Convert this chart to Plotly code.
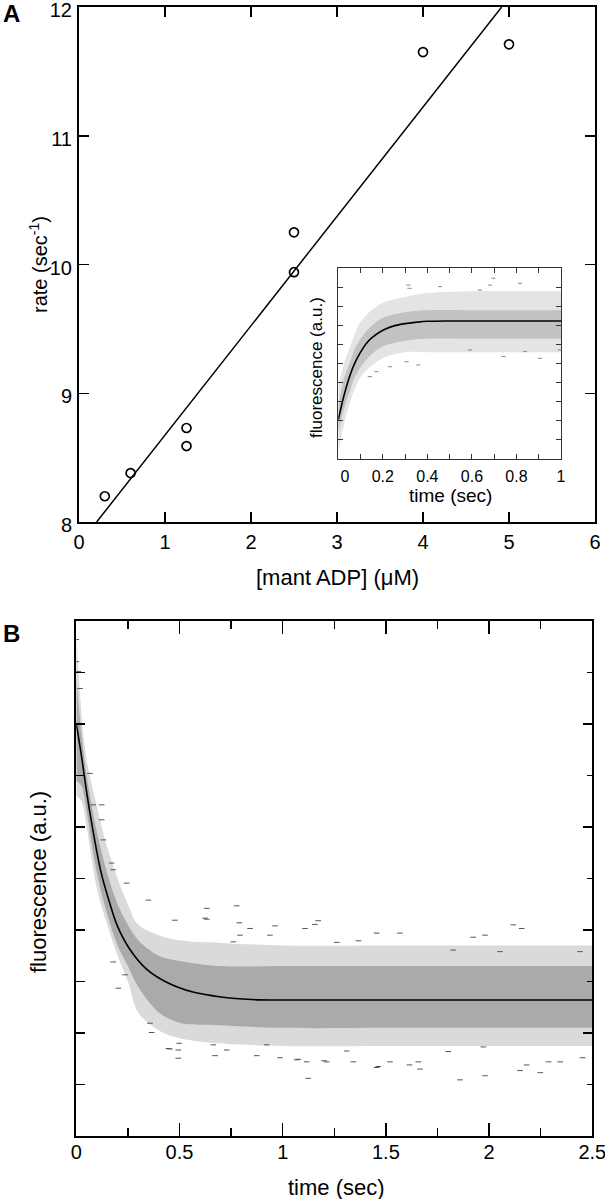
import plotly.graph_objects as go

W, H = 605, 1199

# ---------------- Panel A data ----------------
a_conc = [0.3, 0.6, 1.25, 1.25, 2.5, 2.5, 4.0, 5.0]
a_rate = [8.2, 8.38, 8.73, 8.59, 10.25, 9.94, 11.65, 11.71]
a_fit_conc = [0.205, 4.915]
a_fit_rate = [8.0, 12.0]

# ---------------- Inset data (time sec, fluorescence in tick units) ----------------
in_fit_t = [0, 0.025, 0.05, 0.075, 0.1, 0.125, 0.15, 0.2, 0.25, 0.3, 0.35, 0.4, 0.5, 0.7, 1.0]
in_fit_y = [2.05, 3.3, 4.3, 5.05, 5.6, 6.05, 6.35, 6.75, 6.98, 7.1, 7.17, 7.22, 7.24, 7.24, 7.24]
in_band_t = [0, 0.025, 0.05, 0.075, 0.1, 0.15, 0.2, 0.3, 0.4, 0.6, 1.0]
in_outer_hi = [3.8, 5.0, 5.8, 6.6, 7.2, 7.8, 8.2, 8.5, 8.7, 8.8, 8.8]
in_outer_lo = [0.3, 1.8, 2.9, 3.7, 4.3, 4.9, 5.3, 5.6, 5.6, 5.6, 5.6]
in_inner_hi = [2.8, 4.2, 5.0, 5.8, 6.3, 7.0, 7.4, 7.7, 7.8, 7.8, 7.8]
in_inner_lo = [1.4, 2.6, 3.5, 4.3, 4.8, 5.5, 5.9, 6.2, 6.3, 6.3, 6.3]
in_out_t = [0.314, 0.32, 0.696, 0.816, 0.681, 0.457, 0.636, 0.307, 0.359, 0.172, 0.142,
            0.906, 0.742, 0.591, 0.838, 0.995, 0.232]
in_out_y = [9.12, 8.95, 9.48, 9.21, 9.12, 9.04, 8.86, 5.1, 4.93, 4.58, 4.32,
            5.28, 5.37, 5.72, 5.63, 5.72, 4.84]
in_xticks = [0, 0.2, 0.4, 0.6, 0.8, 1]
in_xticktext = ["\u00a0\u00a0\u00a00", "0.2", "0.4", "0.6", "0.8", "1"]

# ---------------- Panel B data ----------------
b_fit_t = [0, 0.025, 0.05, 0.08, 0.12, 0.16, 0.2, 0.26, 0.34, 0.44, 0.56, 0.7, 0.85, 1.0, 2.5]
b_fit_y = [8.0, 7.38, 6.68, 5.95, 5.12, 4.55, 4.07, 3.62, 3.24, 2.98, 2.8, 2.7, 2.65, 2.64, 2.64]
b_band_t = [0, 0.025, 0.05, 0.1, 0.15, 0.2, 0.25, 0.3, 0.4, 0.5, 0.7, 1.0, 1.5, 2.0, 2.5]
b_outer_hi = [9.8, 8.2, 7.3, 6.4, 5.6, 5.0, 4.5, 4.1, 3.9, 3.8, 3.75, 3.7, 3.7, 3.7, 3.7]
b_outer_lo = [6.6, 6.5, 6.0, 4.8, 4.1, 3.5, 3.0, 2.4, 2.05, 1.9, 1.8, 1.75, 1.75, 1.75, 1.75]
b_inner_hi = [8.9, 7.8, 7.0, 5.9, 5.1, 4.5, 4.1, 3.8, 3.5, 3.4, 3.3, 3.3, 3.3, 3.3, 3.3]
b_inner_lo = [6.9, 6.8, 6.3, 5.1, 4.3, 3.7, 3.3, 2.9, 2.4, 2.2, 2.15, 2.1, 2.1, 2.1, 2.1]
b_out_t = [0.0, 0.0, 0.01, 0.018, 0.066, 0.082, 0.123, 0.123, 0.131, 0.171, 0.179, 0.244, 0.349,
           0.624, 0.478, 0.179, 0.204, 0.236, 0.357, 0.446, 0.494, 0.494, 0.664, 0.729,
           0.632, 0.777, 0.632, 0.79, 0.842, 0.963, 1.108, 1.156, 1.172, 0.793, 0.938, 1.455,
           1.568, 1.923, 1.98, 2.117, 2.158, 0.761, 1.262, 1.367, 1.826, 2.053, 2.44,
           0.672, 0.874, 0.987, 1.124, 1.068, 1.213, 1.342, 1.455, 1.52, 1.614, 1.665, 1.859,
           1.98, 2.15, 2.182, 2.248, 2.288, 2.345, 2.453, 0.365, 0.454, 0.498, 1.076, 1.116,
           1.2, 1.31, 0.922, 1.463, 1.802, 1.972, 1.657]
b_out_y = [9.64, 9.21, 9.02, 8.69, 7.04, 6.43, 6.43, 6.14, 5.75, 5.3, 5.17, 4.91, 4.58,
           4.23, 4.19, 3.38, 2.87, 3.13, 2.19, 1.7, 1.67, 1.51, 1.77, 1.67,
           4.42, 4.47, 4.21, 4.14, 4.03, 4.08, 4.03, 4.11, 4.18, 3.9, 3.9, 3.94,
           3.94, 3.86, 3.9, 4.1, 4.03, 3.77, 3.76, 3.79, 3.61, 3.58, 3.58,
           1.56, 1.56, 1.52, 1.12, 1.48, 1.44, 1.44, 1.33, 1.44, 1.38, 1.3, 1.09,
           1.17, 1.27, 1.38, 1.23, 1.44, 1.44, 1.52, 2.01, 1.69, 1.8, 1.49, 1.44,
           1.46, 1.65, 1.77, 1.35, 1.64, 1.73, 1.44]


def fx(p):
    return p / W


def fy(p):
    return 1 - p / H


FONT = "Liberation Sans, Arial, Helvetica, sans-serif"

fig = go.Figure()

# ---- Panel A ----
fig.add_trace(go.Scatter(x=a_fit_conc, y=a_fit_rate, mode="lines",
                         line=dict(color="black", width=1.5), xaxis="x", yaxis="y"))
fig.add_trace(go.Scatter(x=a_conc, y=a_rate, mode="markers",
                         marker=dict(symbol="circle-open", size=9, color="black",
                                     line=dict(width=1.7, color="black")),
                         xaxis="x", yaxis="y"))


def band(t, hi, lo, color, xa, ya):
    fig.add_trace(go.Scatter(x=t, y=hi, mode="lines", line=dict(width=0, color=color, shape="spline"),
                             xaxis=xa, yaxis=ya, hoverinfo="skip"))
    fig.add_trace(go.Scatter(x=t, y=lo, mode="lines", line=dict(width=0, color=color, shape="spline"),
                             fill="tonexty", fillcolor=color, xaxis=xa, yaxis=ya,
                             hoverinfo="skip"))


# ---- Inset ----
band(in_band_t, in_outer_hi, in_outer_lo, "#e4e4e4", "x3", "y3")
band(in_band_t, in_inner_hi, in_inner_lo, "#c2c2c2", "x3", "y3")
fig.add_trace(go.Scatter(x=in_out_t, y=in_out_y, mode="markers",
                         marker=dict(symbol="line-ew", size=3, line=dict(width=1, color="#8a8a8a")),
                         xaxis="x3", yaxis="y3"))
fig.add_trace(go.Scatter(x=in_fit_t, y=in_fit_y, mode="lines", line_shape="spline",
                         line=dict(color="black", width=1.6), xaxis="x3", yaxis="y3"))

# ---- Panel B ----
band(b_band_t, b_outer_hi, b_outer_lo, "#dadada", "x2", "y2")
band(b_band_t, b_inner_hi, b_inner_lo, "#aaaaaa", "x2", "y2")
fig.add_trace(go.Scatter(x=b_out_t, y=b_out_y, mode="markers",
                         marker=dict(symbol="line-ew", size=4, line=dict(width=1, color="#555555")),
                         xaxis="x2", yaxis="y2"))
fig.add_trace(go.Scatter(x=b_fit_t, y=b_fit_y, mode="lines", line_shape="spline",
                         line=dict(color="black", width=1.6), xaxis="x2", yaxis="y2"))
# invisible trace for the right-hand tick axis of panel B
fig.add_trace(go.Scatter(x=[0], y=[0], mode="markers", marker=dict(opacity=0),
                         xaxis="x2", yaxis="y4", hoverinfo="skip"))

ax_common = dict(showgrid=False, zeroline=False, showline=True, linecolor="black",
                 automargin=False, ticklabeloverflow="allow",
                 ticks="inside", tickcolor="black", tickfont=dict(family=FONT, size=20, color="black"))

fig.update_layout(
    width=W, height=H, margin=dict(l=0, r=0, t=0, b=0, autoexpand=False),
    paper_bgcolor="white", plot_bgcolor="white", showlegend=False,
    font=dict(family=FONT, color="black"),
    xaxis=dict(ax_common, domain=[fx(79), fx(595)], range=[0, 6], dtick=1, tick0=0,
               ticklen=10, tickwidth=1.5, linewidth=2, mirror="ticks", anchor="y",
               ticklabelstandoff=1),
    yaxis=dict(ax_common, domain=[fy(522), fy(7)], range=[8, 12], dtick=1, tick0=8,
               ticklen=10, tickwidth=1.5, linewidth=2, mirror="ticks", anchor="x",
               ticklabelstandoff=1, ticklabelshift=3),
    xaxis2=dict(ax_common, domain=[fx(76.3), fx(592.3)], range=[0, 2.5], dtick=0.5, tick0=0,
                ticklen=13, tickwidth=1.5, linewidth=2, mirror="ticks", anchor="y2",
                minor=dict(dtick=0.25, ticklen=8, ticks="inside", tickcolor="black", tickwidth=1.5),
                ticklabelstandoff=-3),
    yaxis2=dict(ax_common, domain=[fy(1136), fy(621)], range=[0, 10], dtick=1, tick0=0,
                ticklen=9, tickwidth=1.5, linewidth=2, mirror=True, anchor="x2",
                showticklabels=False),
    yaxis4=dict(showgrid=False, zeroline=False, showline=False, overlaying="y2", side="right",
                anchor="x2", range=[0, 10], dtick=2, tick0=0, ticks="inside", ticklen=9,
                automargin=False,
                tickwidth=1.5, tickcolor="black", showticklabels=False,
                minor=dict(dtick=1, ticklen=5, ticks="inside", tickcolor="black", tickwidth=1.5)),
    xaxis3=dict(ax_common, domain=[fx(338.3), fx(561)], range=[0, 1],
                tickvals=in_xticks, ticktext=in_xticktext,
                ticklen=5, tickwidth=1, linewidth=1, linecolor="#333333", tickcolor="#333333",
                mirror="ticks", anchor="y3",
                minor=dict(tickvals=[0.1, 0.3, 0.5, 0.7, 0.9], ticklen=5, ticks="inside",
                           tickcolor="#333333", tickwidth=1),
                tickfont=dict(family=FONT, size=16, color="black"), ticklabelstandoff=3),
    yaxis3=dict(ax_common, domain=[fy(459), fy(268.3)], range=[0, 10], dtick=1, tick0=0,
                ticklen=5, tickwidth=1, linewidth=1, linecolor="#333333", tickcolor="#333333",
                mirror="ticks", anchor="x3", showticklabels=False),
)

ann = [
    dict(text="<b>A</b>", x=fx(11), y=fy(14), size=24, angle=0),
    dict(text="<b>B</b>", x=fx(11), y=fy(633), size=24, angle=0),
    dict(text="rate (sec<sup>-1</sup>)", x=fx(38), y=fy(265), size=20, angle=-90),
    dict(text="[mant ADP] (\u03bcM)", x=fx(337), y=fy(577), size=22, angle=0),
    dict(text="fluorescence (a.u.)", x=fx(316), y=fy(368), size=17, angle=-90),
    dict(text="time (sec)", x=fx(450), y=fy(496), size=19, angle=0),
    dict(text="fluorescence (a.u.)", x=fx(38), y=fy(882), size=22, angle=-90),
    dict(text="time (sec)", x=fx(336), y=fy(1187), size=22, angle=0),
]
for a in ann:
    fig.add_annotation(text=a["text"], x=a["x"], y=a["y"], xref="paper", yref="paper",
                       showarrow=False, textangle=a["angle"], xanchor="center", yanchor="middle",
                       font=dict(family=FONT, size=a["size"], color="black"))

fig.write_html("out.html", config={"displayModeBar": False, "staticPlot": True},
               post_script="document.body.style.margin='0';document.body.style.overflow='hidden';")
